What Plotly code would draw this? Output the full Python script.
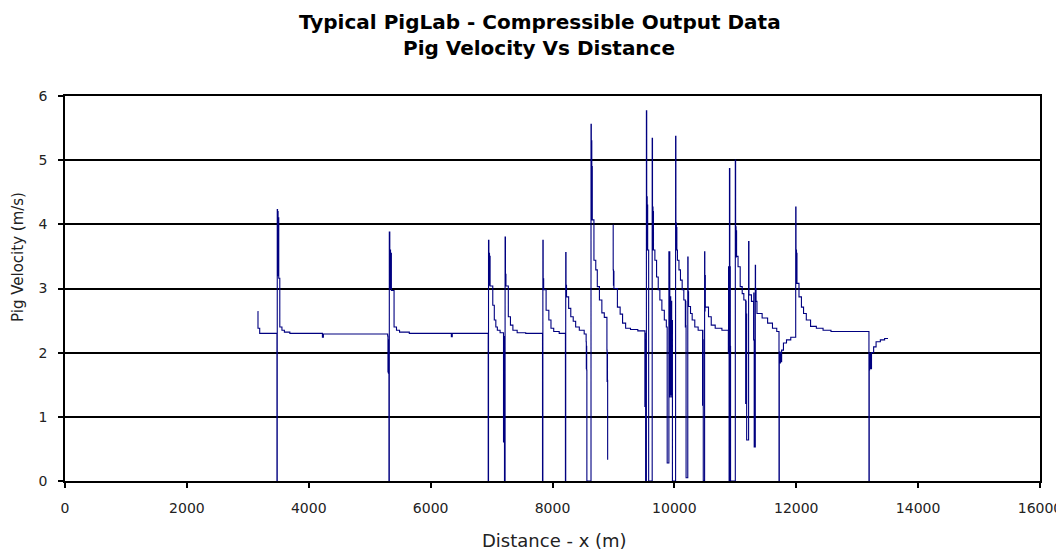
import plotly.graph_objects as go

# ---- Data (distance in m, velocity in m/s) ----
distance_m = [
    3160, 3167, 3195, 3478, 3483, 3488, 3492, 3497, 3502, 3508, 3525, 3560, 3600, 3690, 4224, 4240,
    5295, 5300, 5304, 5308, 5312, 5316, 5322, 5330, 5336, 5342, 5348, 5356, 5400, 5440, 5490, 5650, 6340, 6355,
    6945, 6950, 6956, 6961, 6966, 6971, 6976, 7020, 7045, 7070, 7095, 7140,
    7196, 7200, 7204, 7208, 7212, 7222, 7228, 7232, 7236, 7275, 7310, 7350, 7420, 7560,
    7836, 7842, 7847, 7851, 7855, 7895, 7940, 7975, 8020, 8110,
    8212, 8217, 8222, 8226, 8230, 8265, 8300, 8340, 8380, 8440, 8520,
    8552, 8555, 8558, 8561, 8564,
    8632, 8637, 8641, 8645, 8649, 8653, 8680, 8710, 8735, 8770, 8810, 8850,
    8893, 8896, 8899, 8902, 8905, 8906,
    8990, 8996, 9000, 9004, 9008, 9065, 9110, 9150, 9200, 9280, 9400,
    9516, 9519, 9522, 9525, 9528,
    9541, 9546, 9550, 9554, 9558, 9562, 9578,
    9636, 9641, 9645, 9649, 9653, 9657, 9680, 9708, 9735, 9762, 9795, 9835, 9868, 9882,
    9910, 9925, 9932, 9940, 9948, 9956, 9962, 9968,
    10020, 10025, 10029, 10033, 10037, 10041, 10050, 10075, 10100, 10128, 10155,
    10180, 10184, 10188, 10192,
    10220, 10225, 10229, 10233, 10265, 10292, 10335, 10390,
    10462, 10465, 10468, 10471, 10474,
    10496, 10500, 10504, 10508, 10560, 10605, 10670, 10780,
    10886, 10889, 10892, 10895, 10898, 10904, 10910, 10914, 10918, 10922,
    11000, 11005, 11009, 11013, 11017, 11021, 11045, 11080, 11113, 11140,
    11170, 11174, 11178, 11182, 11186,
    11218, 11224, 11265,
    11300, 11303, 11306, 11310,
    11328, 11332, 11336, 11340, 11355, 11440, 11530, 11610, 11680,
    11717, 11722, 11728, 11734, 11740, 11746, 11760, 11790, 11840, 11910,
    11991, 11996, 12000, 12004, 12008, 12012, 12045, 12085, 12120, 12165, 12235, 12330, 12440, 12570,
    13193, 13198, 13203, 13208, 13213, 13218, 13235, 13270, 13310, 13380, 13450, 13506,
]
velocity_ms = [
    2.64, 2.38, 2.30, 0.00, 4.23, 3.20, 4.20, 3.30, 4.10, 3.16, 2.40, 2.35, 2.32, 2.30, 2.24, 2.29,
    2.26, 1.70, 2.20, 1.68, 2.10, 0.00, 3.88, 3.00, 3.60, 3.00, 3.55, 2.97, 2.40, 2.35, 2.32, 2.30, 2.25, 2.30,
    0.00, 3.75, 3.05, 3.55, 3.05, 3.50, 3.04, 2.74, 2.51, 2.40, 2.35, 2.31,
    0.61, 2.25, 0.62, 2.10, 0.00, 3.80, 3.05, 3.22, 3.04, 2.56, 2.43, 2.35, 2.31, 2.30,
    0.00, 3.75, 3.00, 3.15, 2.98, 2.66, 2.51, 2.38, 2.33, 2.30,
    0.00, 3.56, 2.95, 3.05, 2.87, 2.69, 2.56, 2.49, 2.40, 2.35, 2.29,
    2.17, 1.75, 2.10, 1.73, 0.00,
    5.56, 4.40, 5.30, 4.07, 4.90, 4.07, 3.44, 3.29, 3.03, 2.82, 2.62, 2.55,
    2.04, 1.55, 2.00, 1.57, 0.33, None,
    3.99, 3.29, 3.05, 3.27, 3.00, 2.71, 2.60, 2.46, 2.38, 2.36, 2.34,
    1.16, 2.30, 1.20, 2.20, 0.00,
    5.77, 3.60, 4.43, 3.65, 4.30, 3.60, 0.00,
    5.34, 3.60, 4.27, 3.62, 4.20, 3.60, 3.44, 3.18, 2.98, 2.82, 2.66, 2.51, 2.40, 0.28,
    3.57, 1.31, 2.87, 1.35, 2.80, 1.31, 2.50, 0.00,
    5.37, 3.60, 4.02, 3.62, 3.95, 3.60, 3.44, 3.29, 3.13, 2.98, 2.82,
    2.40, 2.80, 2.42, 0.05,
    3.49, 2.75, 2.95, 2.72, 2.61, 2.51, 2.40, 2.35,
    1.18, 2.35, 1.20, 2.20, 0.00,
    3.57, 2.65, 3.20, 2.71, 2.56, 2.43, 2.38, 2.35,
    1.99, 3.34, 2.00, 3.30, 0.00, 4.87, 2.00, 3.34, 2.10, 0.00,
    5.00, 3.50, 3.96, 3.49, 3.90, 3.50, 3.34, 3.03, 2.92, 2.82,
    1.21, 2.80, 1.25, 2.60, 0.64,
    3.73, 2.90, 2.80,
    2.20, 2.93, 2.20, 0.53,
    3.36, 2.80, 3.00, 2.80, 2.61, 2.54, 2.46, 2.38, 2.33,
    0.00, 1.84, 2.01, 1.84, 2.00, 1.86, 2.04, 2.15, 2.20, 2.24,
    4.27, 3.08, 3.60, 3.10, 3.55, 3.08, 2.87, 2.71, 2.61, 2.51, 2.41, 2.38, 2.35, 2.33,
    0.00, 1.73, 1.99, 1.75, 1.98, 1.75, 2.00, 2.09, 2.17, 2.20, 2.22, 2.22,
]

x_ticks = [0, 2000, 4000, 6000, 8000, 10000, 12000, 14000, 16000]
y_ticks = [0, 1, 2, 3, 4, 5, 6]

title_line1 = "Typical PigLab - Compressible Output Data"
title_line2 = "Pig Velocity Vs Distance"
x_title = "Distance - x (m)"
y_title = "Pig Velocity (m/s)"

fig = go.Figure()
fig.add_trace(go.Scatter(
    x=distance_m, y=velocity_ms, mode="lines",
    line=dict(color="#000080", width=1.1, shape="hv"),
    connectgaps=False, showlegend=False, hoverinfo="x+y",
))

tick_font = dict(family="DejaVu Sans, Liberation Sans, sans-serif", size=14, color="#222222")

fig.update_layout(
    width=1056, height=554, autosize=False,
    margin=dict(l=65, r=16, t=96, b=73, autoexpand=False),
    paper_bgcolor="white", plot_bgcolor="white",
    showlegend=False,
    font=tick_font,
)
fig.update_xaxes(
    range=[0, 16000], tickvals=x_ticks, ticktext=[str(v) for v in x_ticks],
    ticks="outside", ticklen=5, tickwidth=1.5, tickcolor="black",
    ticklabelstandoff=8, ticklabeloverflow="allow", automargin=False,
    showline=True, linecolor="black", linewidth=1.5, mirror=True,
    showgrid=False, zeroline=False, tickfont=tick_font,
)
fig.update_yaxes(
    range=[0, 6], tickvals=y_ticks, ticktext=[str(v) for v in y_ticks],
    ticks="outside", ticklen=5, tickwidth=1.5, tickcolor="black",
    ticklabelstandoff=8, automargin=False,
    showline=True, linecolor="black", linewidth=1.5, mirror=True,
    showgrid=True, gridcolor="black", gridwidth=1.5, zeroline=False,
    tickfont=tick_font,
)

title_font = dict(family="DejaVu Sans, Liberation Sans, sans-serif", size=20, color="black")
fig.add_annotation(text="<b>" + title_line1 + "</b>", xref="paper", yref="paper",
                   x=(540 - 65) / 975, y=1 + (96 - 22) / 385, xanchor="center", yanchor="middle",
                   showarrow=False, font=title_font)
fig.add_annotation(text="<b>" + title_line2 + "</b>", xref="paper", yref="paper",
                   x=(539 - 65) / 975, y=1 + (96 - 48) / 385, xanchor="center", yanchor="middle",
                   showarrow=False, font=title_font)
fig.add_annotation(text=x_title, xref="paper", yref="paper",
                   x=(554 - 65) / 975, y=(481 - 540) / 385, xanchor="center", yanchor="middle",
                   showarrow=False, font=dict(family="DejaVu Sans, Liberation Sans, sans-serif",
                                              size=18, color="#222222"))
fig.add_annotation(text=y_title, xref="paper", yref="paper", textangle=-90,
                   x=(18 - 65) / 975, y=(481 - 257) / 385, xanchor="center", yanchor="middle",
                   showarrow=False, font=dict(family="DejaVu Sans, Liberation Sans, sans-serif",
                                              size=15, color="#222222"))

fig.write_html("out.html",
               config={"responsive": False, "displayModeBar": False},
               post_script="document.body.style.margin='0';document.body.style.overflow='hidden';")
